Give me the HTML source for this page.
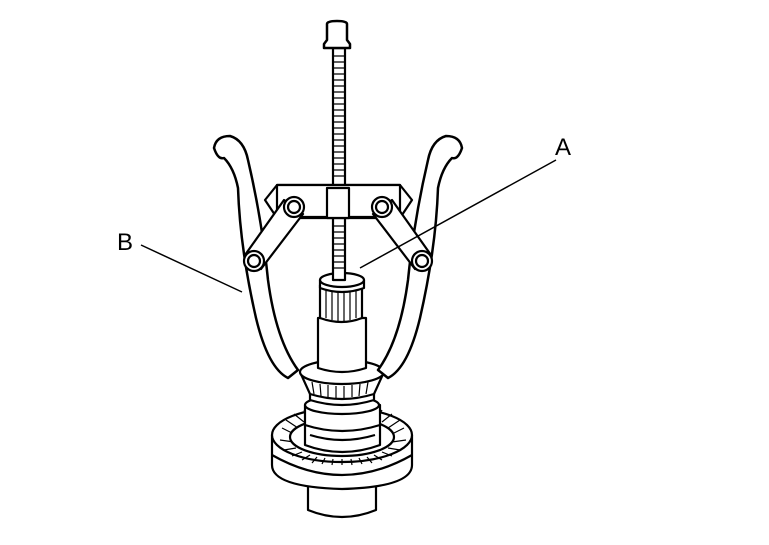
<!DOCTYPE html>
<html><head><style>body{margin:0;background:#fff}svg{display:block}text{font-family:"Liberation Sans",sans-serif;font-size:24px}</style></head><body>
<svg width="769" height="545" viewBox="0 0 769 545" xmlns="http://www.w3.org/2000/svg" fill="#fff" stroke="#000" stroke-width="2.2" stroke-linejoin="round">
<!-- gear -->
<path d="M308 480 v30 q34 14 68 0 v-30 z"/>
<path d="M272 435 v30 q0 22 70 24 q70 -2 70 -24 v-30 z"/>
<ellipse cx="342" cy="435" rx="70" ry="27"/>
<path d="M272 455 q70 40 140 0" fill="none"/>
<g stroke-width="1.2">
<path d="M282 428 l12 6 M286 420 l12 8 M294 414 l10 8 M304 410 l6 10 M382 410 l-6 10 M392 414 l-10 8 M400 420 l-12 8 M404 428 l-12 6 M280 440 l14 2 M406 440 l-14 2 M284 450 l12 -2 M292 456 l10 -4 M302 460 l8 -5 M312 463 l5 -6 M322 464 l3 -6 M332 465 l1 -6 M342 465 v-6 M352 465 l-1 -6 M362 464 l-3 -6 M372 463 l-5 -6 M382 460 l-8 -5 M392 456 l-10 -4 M400 450 l-12 -2"/>
</g>
<ellipse cx="342" cy="437" rx="52" ry="19"/>
<path d="M305 405 v40 q37 14 75 0 v-40 z"/>
<ellipse cx="342" cy="405" rx="37" ry="9"/>
<path d="M305 425 q37 12 75 0 M310 435 q32 10 65 0" fill="none"/>
<!-- bearing -->
<path d="M310 370 v30 q32 10 64 0 v-30 z"/>
<path d="M300 372 l10 22 q32 10 64 0 l10 -22 z"/>
<ellipse cx="342" cy="372" rx="42" ry="12"/>
<g stroke-width="1.2"><path d="M312 382 l2 12 M320 384 l1 12 M328 385 v12 M336 386 v12 M344 386 v12 M352 385 v12 M360 384 l-1 12 M368 382 l-2 12"/></g>
<!-- shaft -->
<path d="M318 318 v50 q24 8 48 0 v-50 z"/>
<path d="M320 285 v33 q22 8 42 0 v-33 z"/>
<g stroke-width="1.2"><path d="M326 288 v30 M332 289 v31 M338 290 v31 M344 290 v31 M350 289 v31 M356 288 v30"/></g>
<path d="M320 280 v8 q22 8 44 0 v-8 z"/>
<ellipse cx="342" cy="280" rx="22" ry="7"/>
<!-- screw -->
<rect x="333" y="48" width="12" height="232"/>
<g stroke-width="1.3"><path d="M333 56 h12 M333 62 h12 M333 68 h12 M333 74 h12 M333 80 h12 M333 86 h12 M333 92 h12 M333 98 h12 M333 104 h12 M333 110 h12 M333 116 h12 M333 122 h12 M333 128 h12 M333 134 h12 M333 140 h12 M333 146 h12 M333 152 h12 M333 158 h12 M333 164 h12 M333 170 h12 M333 176 h12 M333 226 h12 M333 232 h12 M333 238 h12 M333 244 h12 M333 250 h12 M333 256 h12 M333 262 h12 M333 268 h12"/></g>
<path d="M327 24 q0 -3 10 -3 q10 0 10 3 v16 l3 4 v4 h-26 v-4 l3 -4 z" stroke-width="2.5"/>
<!-- arms -->
<path d="M214 148 q2 -12 16 -12 q14 4 18 24 q14 60 20 120 q8 60 30 90 l-10 8 q-20 -10 -32 -60 q-16 -70 -18 -130 q-4 -20 -14 -30 q-6 2 -10 -10 z" stroke-width="2.5"/>
<path d="M462 148 q-2 -12 -16 -12 q-14 4 -18 24 q-14 60 -20 120 q-8 60 -30 90 l10 8 q20 -10 32 -60 q16 -70 18 -130 q4 -20 14 -30 q6 2 10 -10 z" stroke-width="2.5"/>
<!-- crossbar -->
<path d="M265 200 l12 -15 h123 l12 15 l-12 18 h-123 z"/>
<rect x="277" y="185" width="123" height="32"/>
<rect x="327" y="188" width="22" height="30"/>
<!-- links -->
<path d="M284 200 L245 255 l16 14 L303 214 z"/>
<path d="M392 200 L431 255 l-16 14 L373 214 z"/>
<circle cx="294" cy="207" r="10"/><circle cx="294" cy="207" r="6"/>
<circle cx="382" cy="207" r="10"/><circle cx="382" cy="207" r="6"/>
<circle cx="254" cy="261" r="10"/><circle cx="254" cy="261" r="6"/>
<circle cx="422" cy="261" r="10"/><circle cx="422" cy="261" r="6"/>
<!-- leaders -->
<path d="M556 160 L360 268 M141 245 L242 292" fill="none" stroke-width="1.5"/>
<text x="555" y="155" fill="#000" stroke="none">A</text>
<text x="117" y="250" fill="#000" stroke="none">B</text>
</svg>
</body></html>
